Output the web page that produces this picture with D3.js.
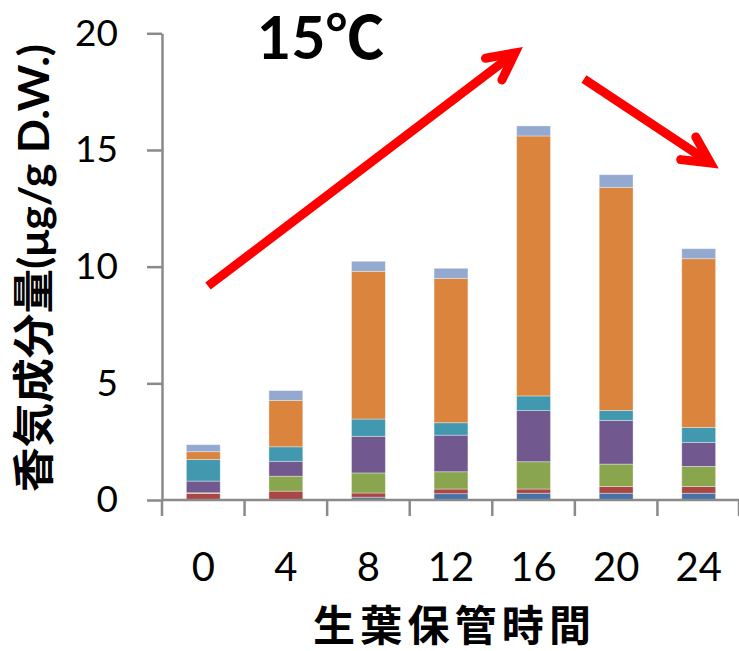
<!DOCTYPE html>
<html>
<head>
<meta charset="utf-8">
<script src="https://cdn.jsdelivr.net/npm/d3@7/dist/d3.min.js"></script>
<style>
  html, body { margin: 0; padding: 0; background: #ffffff; }
  svg { display: block; }
</style>
</head>
<body>
<div id="chart"></div>
<script>
// ---- Data ----
const categories = ["0", "4", "8", "12", "16", "20", "24"];
const seriesNames = ["成分1", "成分2", "成分3", "成分4", "成分5", "成分6", "成分7"];
const seriesColors = ["#4572A7", "#AA4643", "#89A54E", "#71588F", "#4198AF", "#DB843D", "#93A9CF"];
const s1 = [0.03, 0.02, 0.12, 0.27, 0.29, 0.29, 0.29];
const s2 = [0.25, 0.36, 0.18, 0.20, 0.18, 0.29, 0.29];
const s3 = [0.03, 0.64, 0.86, 0.74, 1.17, 0.96, 0.86];
const s4 = [0.50, 0.64, 1.57, 1.57, 2.19, 1.87, 1.03];
const s5 = [0.93, 0.62, 0.74, 0.53, 0.63, 0.43, 0.64];
const s6 = [0.33, 1.98, 6.33, 6.19, 11.14, 9.56, 7.23];
const s7 = [0.30, 0.43, 0.43, 0.43, 0.43, 0.54, 0.43];
const seriesValues = [s1, s2, s3, s4, s5, s6, s7];
const yTicks = [0, 5, 10, 15, 20];
const chartTitle = "15℃";
const yTitle = "香気成分量(μg/g D.W.)";
const xTitle = "生葉保管時間";
// arrows: x in category-band units (0..7), y in data units
const arrowUp = { x0: 0.557, y0: 9.17, x1: 4.275, y1: 19.16 };
const arrowDown = { x0: 5.11, y0: 18.04, x1: 6.643, y1: 14.44 };

// ---- Layout ----
const W = 739, H = 651;
const plotLeft = 162, plotRight = 740, plotTop = 33.3, plotBottom = 500;

const svg = d3.select("#chart").append("svg")
  .attr("width", W).attr("height", H);

const x = d3.scaleBand().domain(categories).range([plotLeft, plotRight]).padding(0);
const xu = d3.scaleLinear().domain([0, categories.length]).range([plotLeft, plotRight]);
const y = d3.scaleLinear().domain([0, 20]).range([plotBottom, plotTop]);

const rows = categories.map((c, i) => {
  const r = { cat: c };
  seriesNames.forEach((s, k) => r[s] = seriesValues[k][i]);
  return r;
});
const stacked = d3.stack().keys(seriesNames)(rows);
const bw = x.step() * 0.41;

const gBars = svg.append("g");
stacked.forEach((layer, k) => {
  gBars.selectAll(null).data(layer).enter().append("rect")
    .attr("x", d => x(d.data.cat) + (x.step() - bw) / 2)
    .attr("width", bw)
    .attr("y", d => y(d[1]))
    .attr("height", d => Math.max(0, y(d[0]) - y(d[1])))
    .attr("fill", seriesColors[k])
    .attr("stroke", "rgba(255,255,255,0.45)")
    .attr("stroke-width", 0.8);
});

// ---- Axes ----
const axisColor = "#8a8a8a";
const yAxis = svg.append("g")
  .attr("transform", `translate(${plotLeft},0)`)
  .call(d3.axisLeft(y).tickValues(yTicks).tickSize(15).tickPadding(29).tickSizeOuter(0));
yAxis.select(".domain").attr("stroke", axisColor).attr("stroke-width", 2.5);
yAxis.selectAll(".tick line").attr("stroke", axisColor).attr("stroke-width", 2.5);
yAxis.selectAll(".tick text")
  .attr("font-family", "Lato, 'Open Sans', sans-serif")
  .attr("font-size", 37).attr("fill", "#000");

// x axis line + ticks at category boundaries
const xBound = categories.map(c => x(c)).concat([plotRight - 1]);
svg.append("line")
  .attr("x1", plotLeft).attr("x2", plotRight)
  .attr("y1", plotBottom).attr("y2", plotBottom)
  .attr("stroke", axisColor).attr("stroke-width", 2.5);
svg.selectAll(null).data(xBound).enter().append("line")
  .attr("x1", d => d).attr("x2", d => d)
  .attr("y1", plotBottom).attr("y2", plotBottom + 16)
  .attr("stroke", axisColor).attr("stroke-width", 2.5);
svg.selectAll(null).data(categories).enter().append("text")
  .attr("x", d => x(d) + x.step() / 2)
  .attr("y", 581)
  .attr("text-anchor", "middle")
  .attr("font-family", "Lato, 'Open Sans', sans-serif")
  .attr("font-size", 40).attr("fill", "#000")
  .text(d => d);

// ---- Titles ----
svg.append("text")
  .attr("x", 257).attr("y", 59)
  .attr("font-family", "Lato, 'Noto Sans CJK JP', sans-serif")
  .attr("font-weight", "bold").attr("font-size", 59).attr("fill", "#000")
  .text(chartTitle);

svg.append("text")
  .attr("transform", "translate(33,268) rotate(-90)")
  .attr("text-anchor", "middle").attr("dominant-baseline", "central")
  .attr("font-family", "Lato, 'Noto Sans CJK JP', sans-serif")
  .attr("font-weight", "bold").attr("font-size", 42).attr("fill", "#000")
  .attr("textLength", 448).attr("lengthAdjust", "spacingAndGlyphs")
  .text(yTitle);

svg.append("text")
  .attr("x", 452).attr("y", 622)
  .attr("text-anchor", "middle").attr("dominant-baseline", "central")
  .attr("font-family", "'Noto Sans CJK JP', sans-serif")
  .attr("font-weight", "bold").attr("font-size", 42).attr("fill", "#000")
  .attr("textLength", 278).attr("lengthAdjust", "spacing")
  .text(xTitle);

// ---- Arrows ----
function drawArrow(a) {
  const X0 = xu(a.x0), Y0 = y(a.y0), X1 = xu(a.x1), Y1 = y(a.y1);
  const ang = Math.atan2(Y0 - Y1, X0 - X1);
  const L = 30, spread = 27 * Math.PI / 180;
  const b1 = [X1 + L * Math.cos(ang + spread), Y1 + L * Math.sin(ang + spread)];
  const b2 = [X1 + L * Math.cos(ang - spread), Y1 + L * Math.sin(ang - spread)];
  svg.append("line")
    .attr("x1", X0).attr("y1", Y0).attr("x2", X1).attr("y2", Y1)
    .attr("stroke", "#ff0000").attr("stroke-width", 9);
  svg.append("path")
    .attr("d", d3.line()([b1, [X1, Y1], b2]))
    .attr("fill", "none").attr("stroke", "#ff0000").attr("stroke-width", 9)
    .attr("stroke-linecap", "round").attr("stroke-linejoin", "miter");
}
drawArrow(arrowUp);
drawArrow(arrowDown);
</script>
</body>
</html>
